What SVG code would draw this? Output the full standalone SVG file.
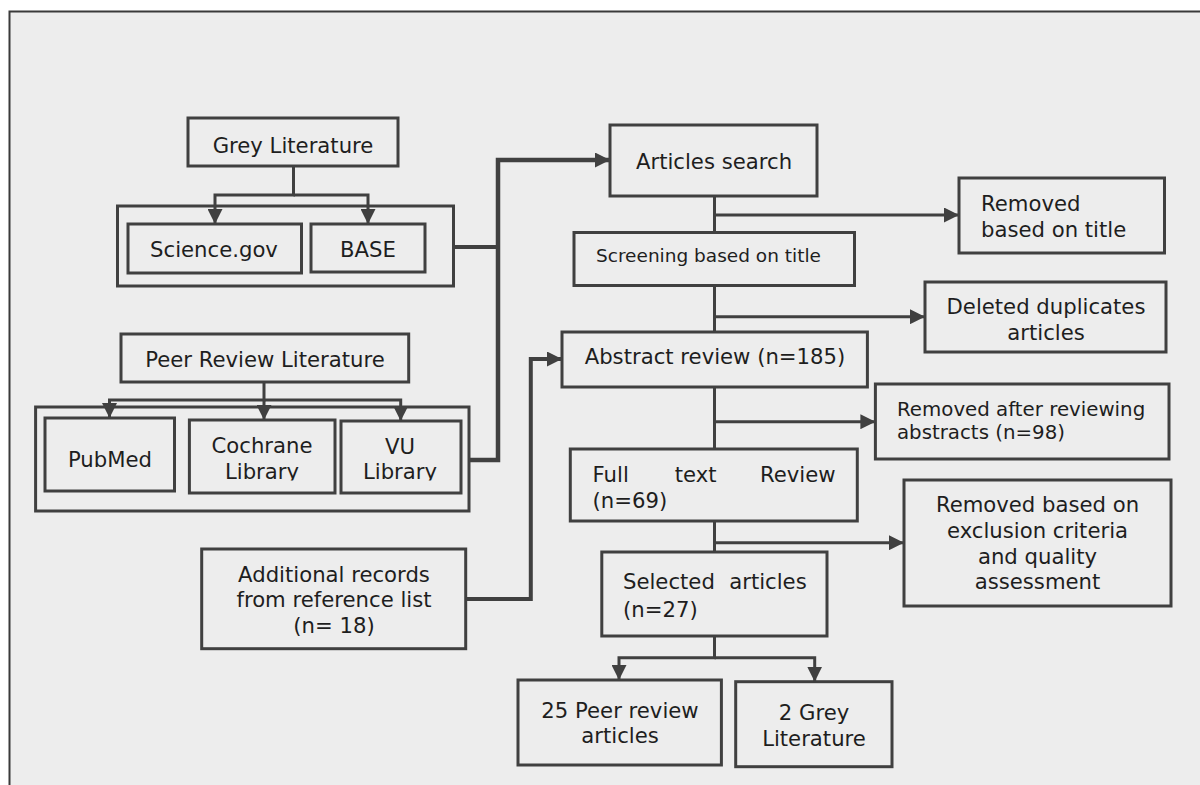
<svg xmlns="http://www.w3.org/2000/svg" width="1200" height="785" viewBox="0 0 1200 785">
<style>
.box{fill:#ededed;stroke:#404040;stroke-width:3}
.grp{fill:none;stroke:#404040;stroke-width:3}
.t{font-family:"DejaVu Sans",Verdana,sans-serif;font-size:21.2px;fill:#1e1e1e}
.c{text-anchor:middle}
.s{font-size:18.5px}
.m{font-size:19.8px}
.ln{fill:none;stroke:#404040;stroke-width:3}
.thick{fill:none;stroke:#404040;stroke-width:4.5}
.mid{fill:none;stroke:#404040;stroke-width:4}
</style>
<defs>
<marker id="ah" viewBox="0 0 15 15" markerWidth="15" markerHeight="15" markerUnits="userSpaceOnUse" refX="15" refY="7.5" orient="auto">
<path d="M0,0 L15,7.5 L0,15 z" fill="#404040"/>
</marker>
<clipPath id="clipLib"><rect x="0" y="0" width="1200" height="480.5"/></clipPath>
</defs>
<rect x="0" y="0" width="1200" height="785" fill="#ffffff"/>
<rect x="9.5" y="11.5" width="1200" height="790" fill="#ededed" stroke="#3a3a3a" stroke-width="2"/>

<g id="grey-group"><rect class="grp" x="117.5" y="206" width="336" height="80"/></g>
<g id="grey-literature"><rect class="box" x="188" y="118" width="210" height="48"/><text class="t c" x="293" y="152.5">Grey Literature</text></g>
<g id="science-gov"><rect class="box" x="128" y="224" width="173.5" height="49"/><text class="t c" x="214" y="257">Science.gov</text></g>
<g id="base"><rect class="box" x="311" y="224" width="114" height="48"/><text class="t c" x="368" y="257">BASE</text></g>

<g id="peer-group"><rect class="grp" x="35.6" y="407" width="433.4" height="104"/></g>
<g id="peer-review-literature"><rect class="box" x="121" y="334" width="287.7" height="48"/><text class="t c" x="265" y="367">Peer Review Literature</text></g>
<g id="pubmed"><rect class="box" x="45" y="418" width="129.5" height="73"/><text class="t c" x="110" y="467">PubMed</text></g>
<g id="cochrane"><rect class="box" x="189.4" y="420" width="145.6" height="73"/><text class="t c" x="262" y="453">Cochrane</text><text class="t c" x="262" y="479" clip-path="url(#clipLib)">Library</text></g>
<g id="vu-library"><rect class="box" x="341" y="421" width="120" height="72"/><text class="t c" x="400" y="454">VU</text><text class="t c" x="400" y="479" clip-path="url(#clipLib)">Library</text></g>

<g id="additional-records"><rect class="box" x="201.7" y="549" width="264" height="99.7"/><text class="t c" x="334" y="581.7">Additional records</text><text class="t c" x="334" y="607.3">from reference list</text><text class="t c" x="334" y="633.3">(n= 18)</text></g>

<g id="articles-search"><rect class="box" x="610" y="125" width="207" height="71"/><text class="t c" x="714" y="169">Articles search</text></g>
<g id="removed-title"><rect class="box" x="959" y="178" width="205.5" height="75"/><text class="t" x="981" y="211">Removed</text><text class="t" x="981" y="237">based on title</text></g>
<g id="screening"><rect class="box" x="574" y="232.5" width="280.5" height="53"/><text class="t s" x="596" y="262">Screening based on title</text></g>
<g id="deleted-duplicates"><rect class="box" x="925" y="282" width="241" height="70"/><text class="t c" x="1046" y="314">Deleted duplicates</text><text class="t c" x="1046" y="340">articles</text></g>
<g id="abstract-review"><rect class="box" x="562" y="332" width="305.4" height="55"/><text class="t c" x="715" y="364">Abstract review (n=185)</text></g>
<g id="removed-abstracts"><rect class="box" x="875.4" y="384" width="293.6" height="75"/><text class="t m" x="897" y="416">Removed after reviewing</text><text class="t m" x="897" y="439.3">abstracts (n=98)</text></g>
<g id="full-text-review"><rect class="box" x="570.3" y="449" width="287" height="72"/><text class="t" y="481.7"><tspan x="592.6">Full</tspan><tspan x="674.7">text</tspan><tspan x="835.5" text-anchor="end">Review</tspan></text><text class="t" x="592.6" y="507.7">(n=69)</text></g>
<g id="removed-exclusion"><rect class="box" x="904" y="480" width="267" height="126"/><text class="t c" x="1037.5" y="512">Removed based on</text><text class="t c" x="1037.5" y="538">exclusion criteria</text><text class="t c" x="1037.5" y="564">and quality</text><text class="t c" x="1037.5" y="589">assessment</text></g>
<g id="selected-articles"><rect class="box" x="601.8" y="552" width="225.2" height="84"/><text class="t" y="589"><tspan x="623">Selected</tspan><tspan x="806.7" text-anchor="end">articles</tspan></text><text class="t" x="623" y="616.7">(n=27)</text></g>
<g id="peer-review-articles"><rect class="box" x="518" y="680" width="203.4" height="85"/><text class="t c" x="620" y="717.7">25 Peer review</text><text class="t c" x="620" y="742.7">articles</text></g>
<g id="grey-literature-2"><rect class="box" x="735.7" y="681.7" width="156.3" height="85"/><text class="t c" x="814" y="720">2 Grey</text><text class="t c" x="814" y="746">Literature</text></g>

<g id="connectors">
<path class="ln" d="M293.5,166 V195 H215 V224" marker-end="url(#ah)"/>
<path class="ln" d="M293.5,195 H368 V224" marker-end="url(#ah)"/>
<path class="ln" d="M264,382 V400 H109.5 V418" marker-end="url(#ah)"/>
<path class="ln" d="M264,400 V420" marker-end="url(#ah)"/>
<path class="ln" d="M264,400 H400.7 V421" marker-end="url(#ah)"/>
<path class="mid" d="M453.5,247 H498"/>
<path class="thick" d="M469,460 H498 V160 H610" marker-end="url(#ah)"/>
<path class="mid" d="M465.7,599 H530.8 V359 H562" marker-end="url(#ah)"/>
<path class="ln" d="M714.5,196 V232"/>
<path class="ln" d="M714.5,215 H959" marker-end="url(#ah)"/>
<path class="ln" d="M714.5,285 V332"/>
<path class="ln" d="M714.5,316.7 H925" marker-end="url(#ah)"/>
<path class="ln" d="M714.5,387 V449"/>
<path class="ln" d="M714.5,421.7 H875.4" marker-end="url(#ah)"/>
<path class="ln" d="M714.5,521 V552"/>
<path class="ln" d="M714.5,542.7 H904" marker-end="url(#ah)"/>
<path class="ln" d="M714.5,636 V657.7 H619 V680" marker-end="url(#ah)"/>
<path class="ln" d="M714.5,657.7 H814.7 V681.7" marker-end="url(#ah)"/>
</g>
</svg>
